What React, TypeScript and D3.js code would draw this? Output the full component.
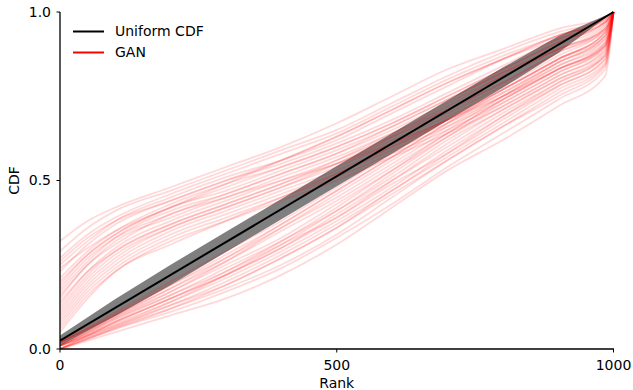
import React from "react";
import * as d3 from "d3";

const ganRanks = [0, 50, 100, 200, 300, 400, 500, 600, 700, 800, 900, 985, 1000];

// curves that start above the uniform line
const ganUpper: number[][] = [
  [0.32, 0.38, 0.42, 0.48, 0.54, 0.6, 0.67, 0.75, 0.83, 0.89, 0.95, 0.985, 1],
  [0.29, 0.36, 0.41, 0.47, 0.53, 0.59, 0.65, 0.73, 0.81, 0.88, 0.94, 0.98, 1],
  [0.27, 0.34, 0.39, 0.46, 0.52, 0.58, 0.64, 0.72, 0.8, 0.87, 0.93, 0.98, 1],
  [0.25, 0.32, 0.38, 0.45, 0.51, 0.56, 0.62, 0.7, 0.78, 0.86, 0.93, 0.975, 1],
  [0.23, 0.31, 0.37, 0.44, 0.5, 0.55, 0.61, 0.68, 0.76, 0.84, 0.92, 0.97, 1],
  [0.21, 0.29, 0.35, 0.43, 0.49, 0.54, 0.6, 0.67, 0.75, 0.83, 0.91, 0.97, 1],
  [0.19, 0.28, 0.34, 0.42, 0.47, 0.53, 0.59, 0.66, 0.74, 0.82, 0.9, 0.965, 1],
  [0.17, 0.26, 0.33, 0.41, 0.46, 0.52, 0.58, 0.65, 0.73, 0.81, 0.89, 0.96, 1],
  [0.15, 0.25, 0.31, 0.4, 0.45, 0.51, 0.57, 0.64, 0.71, 0.79, 0.88, 0.955, 1],
  [0.13, 0.23, 0.3, 0.38, 0.44, 0.5, 0.56, 0.63, 0.7, 0.78, 0.87, 0.95, 1],
  [0.12, 0.22, 0.29, 0.37, 0.43, 0.49, 0.55, 0.62, 0.69, 0.77, 0.86, 0.94, 1],
  [0.1, 0.2, 0.27, 0.36, 0.42, 0.48, 0.54, 0.61, 0.68, 0.76, 0.85, 0.93, 1],
  [0.09, 0.19, 0.26, 0.35, 0.41, 0.47, 0.53, 0.6, 0.67, 0.75, 0.84, 0.92, 1],
  [0.08, 0.18, 0.25, 0.34, 0.4, 0.46, 0.52, 0.59, 0.66, 0.74, 0.83, 0.91, 1],
  [0.07, 0.17, 0.24, 0.33, 0.39, 0.45, 0.51, 0.58, 0.65, 0.73, 0.82, 0.9, 1],
  [0.06, 0.16, 0.23, 0.32, 0.38, 0.44, 0.5, 0.57, 0.64, 0.72, 0.81, 0.89, 1],
  [0.05, 0.15, 0.23, 0.31, 0.38, 0.45, 0.52, 0.6, 0.68, 0.77, 0.86, 0.94, 1],
  [0.24, 0.3, 0.35, 0.42, 0.48, 0.54, 0.6, 0.67, 0.75, 0.83, 0.91, 0.97, 1],
  [0.2, 0.28, 0.34, 0.42, 0.49, 0.56, 0.63, 0.71, 0.79, 0.86, 0.93, 0.98, 1],
  [0.14, 0.23, 0.29, 0.37, 0.43, 0.49, 0.56, 0.64, 0.72, 0.81, 0.89, 0.95, 1],
  [0.11, 0.21, 0.28, 0.36, 0.42, 0.48, 0.55, 0.63, 0.71, 0.79, 0.88, 0.945, 1],
  [0.16, 0.25, 0.32, 0.39, 0.45, 0.5, 0.55, 0.61, 0.68, 0.75, 0.83, 0.9, 1],
  [0.26, 0.33, 0.38, 0.44, 0.5, 0.56, 0.63, 0.71, 0.79, 0.86, 0.92, 0.97, 1],
  [0.18, 0.27, 0.33, 0.4, 0.46, 0.52, 0.58, 0.66, 0.74, 0.82, 0.89, 0.95, 1],
];

// curves that stay under the uniform line and jump to 1 at the end
const ganLower: number[][] = [
  [0.0, 0.025, 0.05, 0.1, 0.15, 0.22, 0.31, 0.42, 0.53, 0.62, 0.72, 0.81, 1],
  [0.0, 0.03, 0.06, 0.11, 0.17, 0.24, 0.33, 0.43, 0.54, 0.64, 0.74, 0.83, 1],
  [0.01, 0.035, 0.065, 0.12, 0.18, 0.25, 0.34, 0.45, 0.56, 0.66, 0.75, 0.84, 1],
  [0.01, 0.04, 0.07, 0.13, 0.19, 0.27, 0.36, 0.47, 0.57, 0.67, 0.77, 0.85, 1],
  [0.0, 0.04, 0.075, 0.14, 0.21, 0.29, 0.38, 0.48, 0.59, 0.69, 0.78, 0.86, 1],
  [0.01, 0.045, 0.08, 0.15, 0.22, 0.3, 0.4, 0.5, 0.6, 0.7, 0.79, 0.87, 1],
  [0.01, 0.05, 0.09, 0.16, 0.24, 0.32, 0.41, 0.51, 0.62, 0.71, 0.8, 0.88, 1],
  [0.02, 0.055, 0.095, 0.17, 0.25, 0.33, 0.43, 0.53, 0.63, 0.72, 0.81, 0.885, 1],
  [0.02, 0.06, 0.1, 0.18, 0.26, 0.35, 0.44, 0.54, 0.64, 0.74, 0.83, 0.9, 1],
  [0.01, 0.05, 0.09, 0.17, 0.26, 0.36, 0.46, 0.56, 0.66, 0.75, 0.84, 0.91, 1],
  [0.02, 0.06, 0.1, 0.19, 0.28, 0.37, 0.47, 0.57, 0.67, 0.76, 0.85, 0.92, 1],
  [0.0, 0.035, 0.07, 0.14, 0.22, 0.31, 0.41, 0.52, 0.63, 0.73, 0.82, 0.895, 1],
  [0.01, 0.045, 0.085, 0.16, 0.23, 0.31, 0.39, 0.49, 0.58, 0.68, 0.78, 0.86, 1],
  [0.02, 0.06, 0.105, 0.19, 0.27, 0.36, 0.45, 0.55, 0.65, 0.75, 0.85, 0.93, 1],
  [0.0, 0.03, 0.065, 0.13, 0.2, 0.28, 0.37, 0.47, 0.58, 0.69, 0.79, 0.875, 1],
  [0.01, 0.04, 0.08, 0.15, 0.23, 0.32, 0.42, 0.53, 0.64, 0.74, 0.83, 0.905, 1],
  [0.02, 0.065, 0.11, 0.2, 0.29, 0.38, 0.48, 0.58, 0.68, 0.77, 0.86, 0.94, 1],
  [0.0, 0.03, 0.06, 0.12, 0.19, 0.27, 0.36, 0.46, 0.56, 0.66, 0.76, 0.845, 1],
  [0.01, 0.05, 0.095, 0.18, 0.27, 0.37, 0.47, 0.57, 0.67, 0.77, 0.86, 0.93, 1],
  [0.0, 0.04, 0.08, 0.15, 0.22, 0.3, 0.39, 0.5, 0.61, 0.71, 0.8, 0.87, 1],
];

// gray confidence band round the uniform line
const bandRanks = [0, 100, 200, 300, 400, 500, 600, 700, 800, 900, 1000];
const bandLow = [0.01, 0.098, 0.19, 0.288, 0.385, 0.483, 0.58, 0.678, 0.775, 0.878, 1.0];
const bandHigh = [0.04, 0.148, 0.25, 0.348, 0.445, 0.543, 0.64, 0.738, 0.835, 0.928, 1.0];

const uniformRanks = [0, 1000];
const uniformCdf = [0.025, 1.0];

const xTicks = [0, 500, 1000];
const yTicks = [0, 0.5, 1];

const width = 633;
const height = 390;
const font = "DejaVu Sans, sans-serif";

export default function App() {
  const x = d3.scaleLinear().domain([0, 1000]).range([60, 613.5]);
  const y = d3.scaleLinear().domain([0, 1]).range([349, 12]);

  const line = d3
    .line<[number, number]>()
    .x((d) => x(d[0]))
    .y((d) => y(d[1]))
    .curve(d3.curveMonotoneX);

  const area = d3
    .area<number>()
    .x((_, i) => x(bandRanks[i]))
    .y0((_, i) => y(bandLow[i]))
    .y1((_, i) => y(bandHigh[i]));

  const curves = [...ganUpper, ...ganLower];

  return (
    <svg
      width={width}
      height={height}
      style={{ position: "absolute", left: 0, top: 0, background: "#fff" }}
      fontFamily={font}
    >
      <defs>
        <clipPath id="plot">
          <rect x={60} y={10} width={556} height={340} />
        </clipPath>
      </defs>
      <g clipPath="url(#plot)">
        <path d={area(bandLow) || ""} fill="#7f7f7f" />
        {curves.map((c, i) => (
          <path
            key={i}
            d={line(c.map((v, j) => [ganRanks[j], v] as [number, number])) || ""}
            fill="none"
            stroke="#ff0000"
            strokeOpacity={0.15}
            strokeWidth={1.8}
          />
        ))}
        <path
          d={line(uniformCdf.map((v, j) => [uniformRanks[j], v] as [number, number])) || ""}
          fill="none"
          stroke="#000"
          strokeWidth={2}
        />
      </g>

      {/* spines */}
      <line x1={60} x2={60} y1={12} y2={349} stroke="#000" strokeWidth={1.3} />
      <line x1={60} x2={614} y1={349} y2={349} stroke="#000" strokeWidth={1.3} />

      {xTicks.map((t) => (
        <g key={t} transform={`translate(${x(t)},349)`}>
          <line y1={0} y2={3.5} stroke="#000" strokeWidth={1} />
          <text y={21} textAnchor="middle" fontSize={14} fill="#000">
            {t}
          </text>
        </g>
      ))}
      {yTicks.map((t) => (
        <g key={t} transform={`translate(60,${y(t)})`}>
          <line x1={0} x2={-3.5} stroke="#000" strokeWidth={1} />
          <text x={-9} dy="0.35em" textAnchor="end" fontSize={14} fill="#000">
            {t.toFixed(1)}
          </text>
        </g>
      ))}

      <text x={x(500)} y={388} textAnchor="middle" fontSize={14} fill="#000">
        Rank
      </text>
      <text
        transform={`translate(19,${y(0.5)}) rotate(-90)`}
        textAnchor="middle"
        fontSize={14}
        fill="#000"
      >
        CDF
      </text>

      {/* legend */}
      <line x1={73} x2={104} y1={31.5} y2={31.5} stroke="#000" strokeWidth={2} />
      <text x={115} y={36} fontSize={14} fill="#000">
        Uniform CDF
      </text>
      <line x1={73} x2={104} y1={52.5} y2={52.5} stroke="#ff0000" strokeWidth={2} />
      <text x={115} y={57} fontSize={14} fill="#000">
        GAN
      </text>
    </svg>
  );
}
